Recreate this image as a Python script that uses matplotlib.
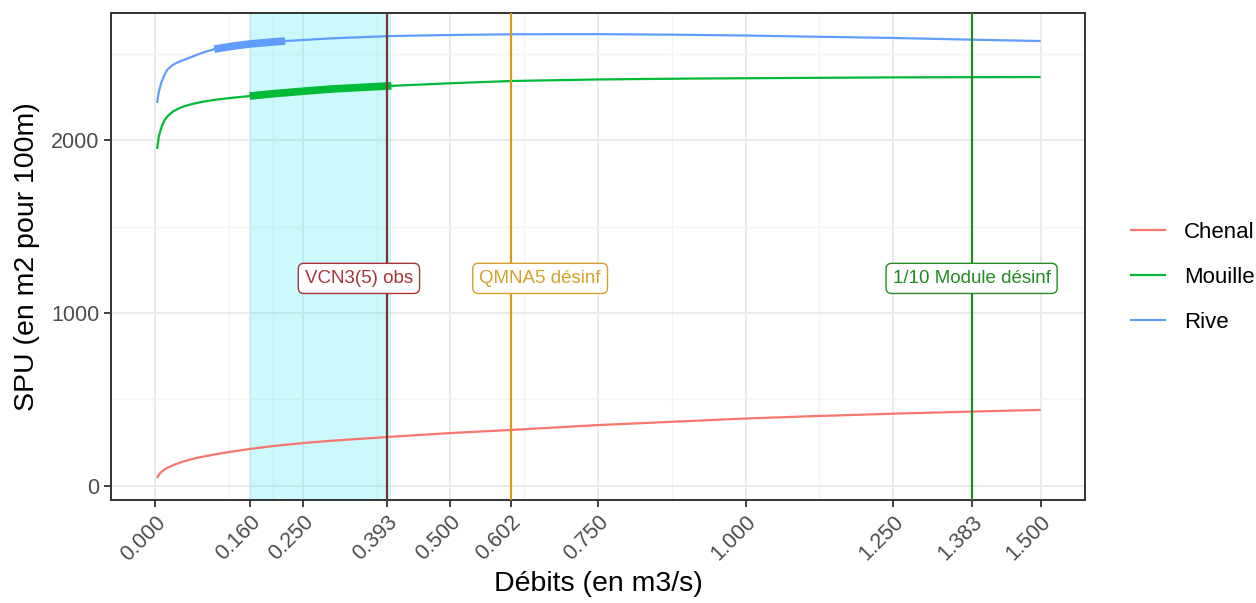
import matplotlib
matplotlib.use("Agg")
import matplotlib.pyplot as plt
import numpy as np

plt.rcParams['font.family'] = ['Liberation Sans', 'DejaVu Sans']

# debits (m3/s) and SPU per habitat
q = [0.003, 0.006, 0.01, 0.015, 0.02, 0.03, 0.04, 0.05, 0.065, 0.08, 0.1, 0.13, 0.16, 0.2,
     0.22, 0.25, 0.3, 0.393, 0.4, 0.5, 0.602, 0.75, 0.9, 1.0, 1.1, 1.25, 1.383, 1.5]
chenal = [46, 65, 81, 94, 104, 120, 133, 144, 158, 169, 182, 199, 214, 231,
          238, 248, 262, 283, 285, 306, 324, 352, 375, 390, 402, 418, 430, 440]
mouille = [1948, 2020, 2070, 2110, 2135, 2165, 2183, 2196, 2210, 2221, 2232, 2244, 2254, 2268,
           2273, 2282, 2295, 2312, 2313, 2328, 2341, 2350, 2355, 2357, 2359, 2362, 2363, 2364]
rive = [2214, 2280, 2330, 2372, 2405, 2435, 2452, 2465, 2485, 2505, 2525, 2542, 2555, 2567,
        2572, 2578, 2588, 2600, 2601, 2607, 2611, 2612, 2608, 2604, 2598, 2590, 2580, 2572]

series_names = ["Chenal", "Mouille", "Rive"]
series_colors = ["#F8766D", "#00BA38", "#619CFF"]

# thick ranges (optimal zone) per series
thick_ranges = {"Mouille": (0.16, 0.4), "Rive": (0.1, 0.22)}

band = (0.16, 0.40)
ref_names = ["VCN3(5) obs", "QMNA5 désinf", "1/10 Module désinf"]
ref_q = [0.393, 0.602, 1.383]
ref_label_x = [0.345, 0.652, 1.383]
ref_label_y = 1200
ref_line_colors = ["#7A3434", "#D99A1C", "#1F8A1F"]
ref_text_colors = ["#A8343A", "#D4A02C", "#228B22"]

xticks = [0.0, 0.16, 0.25, 0.393, 0.5, 0.602, 0.75, 1.0, 1.25, 1.383, 1.5]
xminor = [0.125, 0.2, 0.375, 0.625, 0.875, 1.125]

fig = plt.figure(figsize=(12.56, 6.03), dpi=100)
ax = fig.add_axes([0.0884, 0.1708, 0.7754, 0.8076])

for x in xticks:
    ax.axvline(x, color="#EBEBEB", lw=1.4, zorder=0)
for x in xminor:
    ax.axvline(x, color="#F4F4F4", lw=1.0, zorder=0)
for y in [0, 1000, 2000]:
    ax.axhline(y, color="#EBEBEB", lw=1.4, zorder=0)
for y in [500, 1500, 2500]:
    ax.axhline(y, color="#F4F4F4", lw=1.0, zorder=0)

ax.axvspan(band[0], band[1], color="#00E5EE", alpha=0.2, lw=0, zorder=1)

qa = np.array(q)
for name, vals, col in zip(series_names, [chenal, mouille, rive], series_colors):
    ax.plot(q, vals, color=col, lw=1.6, label=name, zorder=3, solid_capstyle="butt")
    if name in thick_ranges:
        lo, hi = thick_ranges[name]
        m = (qa >= lo) & (qa <= hi)
        ax.plot(qa[m], np.array(vals)[m], color=col, lw=5.5, zorder=3, solid_capstyle="butt")

for xq, lx, name, lc, tc in zip(ref_q, ref_label_x, ref_names, ref_line_colors, ref_text_colors):
    ax.axvline(xq, color=lc, lw=1.6, zorder=4)
    ax.text(lx, ref_label_y, name, color=tc, fontsize=13.5, ha="center", va="center", zorder=5,
            bbox=dict(boxstyle="round,pad=0.35,rounding_size=0.3", fc="white", ec=tc, lw=1.0))

ax.set_xlim(-0.075, 1.575)
ax.set_ylim(-81, 2734)
ax.set_xticks(xticks)
ax.set_xticklabels([f"{t:.3f}" for t in xticks], rotation=45, ha="right", va="top",
                   rotation_mode="anchor")
ax.set_yticks([0, 1000, 2000])
ax.tick_params(axis="both", colors="#333333", labelcolor="#4D4D4D", labelsize=15.5,
               length=5, width=1.3)
for s in ax.spines.values():
    s.set_color("#333333")
    s.set_linewidth(1.4)

ax.set_xlabel("Débits (en m3/s)", fontsize=20.5, labelpad=4)
ax.set_ylabel("SPU (en m2 pour 100m)", fontsize=20.5, labelpad=8)

fig.legend(loc="center left", bbox_to_anchor=(0.884, 0.5406), frameon=False, fontsize=16,
           handlelength=1.6, handletextpad=0.8, labelspacing=1.08)

fig.savefig("out.png", dpi=100)
